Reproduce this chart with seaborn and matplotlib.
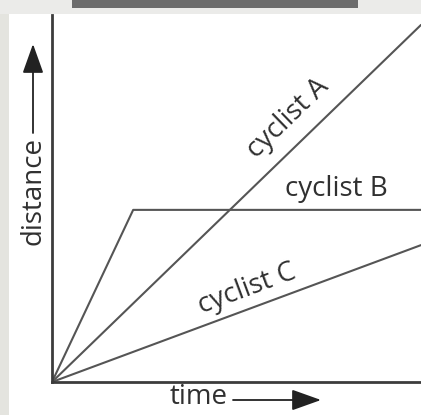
import matplotlib
matplotlib.use("Agg")
import matplotlib.pyplot as plt
from matplotlib.patches import Rectangle
import seaborn as sns
import pandas as pd

# Distance–time journeys of three cyclists
cyclists = ["cyclist A", "cyclist A", "cyclist B", "cyclist B", "cyclist B", "cyclist C", "cyclist C"]
time = [0.0, 10.0, 0.0, 2.2, 10.0, 0.0, 10.0]
distance = [0.0, 9.73, 0.0, 4.69, 4.69, 0.0, 3.73]

label_names = ["cyclist A", "cyclist B", "cyclist C"]
label_time = [6.40, 7.72, 5.28]
label_distance = [7.19, 5.26, 2.53]
label_angle = [44, 0, 20.4]

df = pd.DataFrame({"cyclist": cyclists, "time": time, "distance": distance})

sns.set_theme(style="white")
plt.rcParams["font.family"] = ["Open Sans", "DejaVu Sans"]

W, H = 421, 415
fig = plt.figure(figsize=(W / 100, H / 100), dpi=100, facecolor="white")

# page decoration: grey margin strip, top band and dark header bar
fig.patches.append(Rectangle((0, 0), 9 / W, 1, transform=fig.transFigure,
                             facecolor="#e4e4df", edgecolor="none", zorder=0))
fig.patches.append(Rectangle((0, 1 - 14 / H), 1, 14 / H, transform=fig.transFigure,
                             facecolor="#ebebe9", edgecolor="none", zorder=0))
fig.patches.append(Rectangle((72 / W, 1 - 8 / H), (358 - 72) / W, 8 / H,
                             transform=fig.transFigure,
                             facecolor="#6c6c6c", edgecolor="none", zorder=1))

x0, y0, x1, y1 = 52, 382, 421, 15
ax = fig.add_axes([x0 / W, 1 - y0 / H, (x1 - x0) / W, (y0 - y1) / H])
ax.set_facecolor("none")

line_color = "#555555"
sns.lineplot(data=df, x="time", y="distance", units="cyclist", estimator=None,
             color=line_color, linewidth=1.5, ax=ax, sort=False)

ax.set_xlim(0, 10)
ax.set_ylim(0, 10)
ax.set_xticks([])
ax.set_yticks([])
ax.set_xlabel("")
ax.set_ylabel("")
for side in ["top", "right"]:
    ax.spines[side].set_visible(False)
for side in ["left", "bottom"]:
    ax.spines[side].set_color("#3c3c3c")
    ax.spines[side].set_linewidth(2)

text_color = "#303030"
fs = 20
for name, t, d, ang in zip(label_names, label_time, label_distance, label_angle):
    ax.text(t, d, name, rotation=ang, ha="center", va="center",
            fontsize=fs, color=text_color)

def fx(px):
    return px / W

def fy(py):
    return 1 - py / H

arrow_style = dict(arrowstyle="-|>,head_length=1.4,head_width=0.5",
                   color="#222222", lw=1.3, shrinkA=0, shrinkB=0,
                   mutation_scale=13)

# axis titles with arrows
fig.text(fx(33), fy(191), "distance", rotation=90, ha="center", va="center",
         fontsize=fs, color=text_color)
ax.annotate("", xy=(fx(33), fy(44)), xytext=(fx(33), fy(133)),
            xycoords="figure fraction", textcoords="figure fraction",
            arrowprops=arrow_style)
fig.text(fx(199), fy(397), "time", ha="center", va="center",
         fontsize=fs, color=text_color)
ax.annotate("", xy=(fx(321), fy(400)), xytext=(fx(233), fy(400)),
            xycoords="figure fraction", textcoords="figure fraction",
            arrowprops=arrow_style)

fig.savefig("out.png", dpi=100, facecolor=fig.get_facecolor())
